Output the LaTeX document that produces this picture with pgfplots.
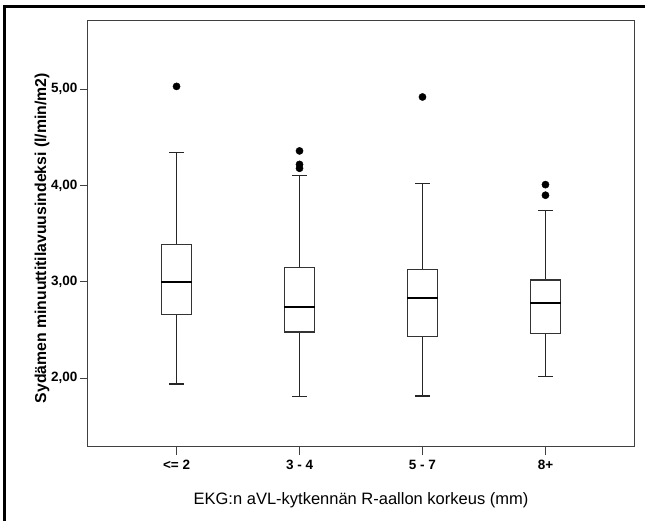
\documentclass[border=0pt]{standalone}
\usepackage{pgfplots}
\pgfplotsset{compat=1.18}
\usepgfplotslibrary{statistics}
\usepackage{fontspec}
\setmainfont{Liberation Sans}
\begin{document}
\begin{tikzpicture}[x=1pt,y=1pt]
\useasboundingbox (0,0) rectangle (645,521);
\draw[line width=3pt,black] (4.5,0) -- (4.5,514.5) -- (645,514.5);
\begin{axis}[
  at={(88pt,74pt)}, anchor=south west,
  scale only axis, width=546pt, height=426pt,
  xmin=0.28, xmax=4.72, ymin=1.286, ymax=5.709,
  axis line style={draw=black!75, line width=1pt},
  tick style={draw=black!75, line width=1pt},
  tick align=outside, major tick length=8pt,
  xtick={1,2,3,4}, xticklabels={{<= 2},{3 - 4},{5 - 7},{8+}},
  ytick={2,3,4,5}, yticklabels={{2,00},{3,00},{4,00},{5,00}},
  xtick pos=bottom, ytick pos=left,
  ticklabel style={font=\fontsize{13.5}{15}\selectfont\bfseries},
  xticklabel style={yshift=-2pt},
  yticklabel style={xshift=1pt},
  xlabel={EKG:n aVL-kytkennän R-aallon korkeus (mm)},
  ylabel={Sydämen minuuttitilavuusindeksi (l/min/m2)},
  xlabel style={font=\fontsize{16.5}{18}\selectfont, at={(axis description cs:0.5,-0.124)}, anchor=center},
  ylabel style={font=\fontsize{15.8}{18}\selectfont\bfseries, at={(axis description cs:-0.0842,0.49)}, anchor=center},
  boxplot/draw direction=y,
  boxplot/box extend=0.25,
  boxplot/whisker extend=0.115,
  boxplot/every box/.style={draw=black!80, line width=1.1pt, fill=white},
  boxplot/every whisker/.style={draw=black!85, line width=1.1pt},
  boxplot/every median/.style={draw=black, line width=2.4pt},
  clip=false,
]
\addplot[black, mark=*, mark size=3.6pt, mark options={fill=black}, boxplot prepared={
  lower whisker=1.94, lower quartile=2.66, median=3.00,
  upper quartile=3.39, upper whisker=4.346, draw position=1}]
  coordinates {(0,5.03)};
\addplot[black, mark=*, mark size=3.6pt, mark options={fill=black}, boxplot prepared={
  lower whisker=1.81, lower quartile=2.48, median=2.74,
  upper quartile=3.15, upper whisker=4.107, draw position=2}]
  coordinates {(0,4.36) (0,4.22) (0,4.18)};
\addplot[black, mark=*, mark size=3.6pt, mark options={fill=black}, boxplot prepared={
  lower whisker=1.815, lower quartile=2.43, median=2.83,
  upper quartile=3.13, upper whisker=4.02, draw position=3}]
  coordinates {(0,4.92)};
\addplot[black, mark=*, mark size=3.6pt, mark options={fill=black}, boxplot prepared={
  lower whisker=2.02, lower quartile=2.46, median=2.78,
  upper quartile=3.02, upper whisker=3.74, draw position=4}]
  coordinates {(0,4.01) (0,3.90)};
\end{axis}
\end{tikzpicture}
\end{document}
